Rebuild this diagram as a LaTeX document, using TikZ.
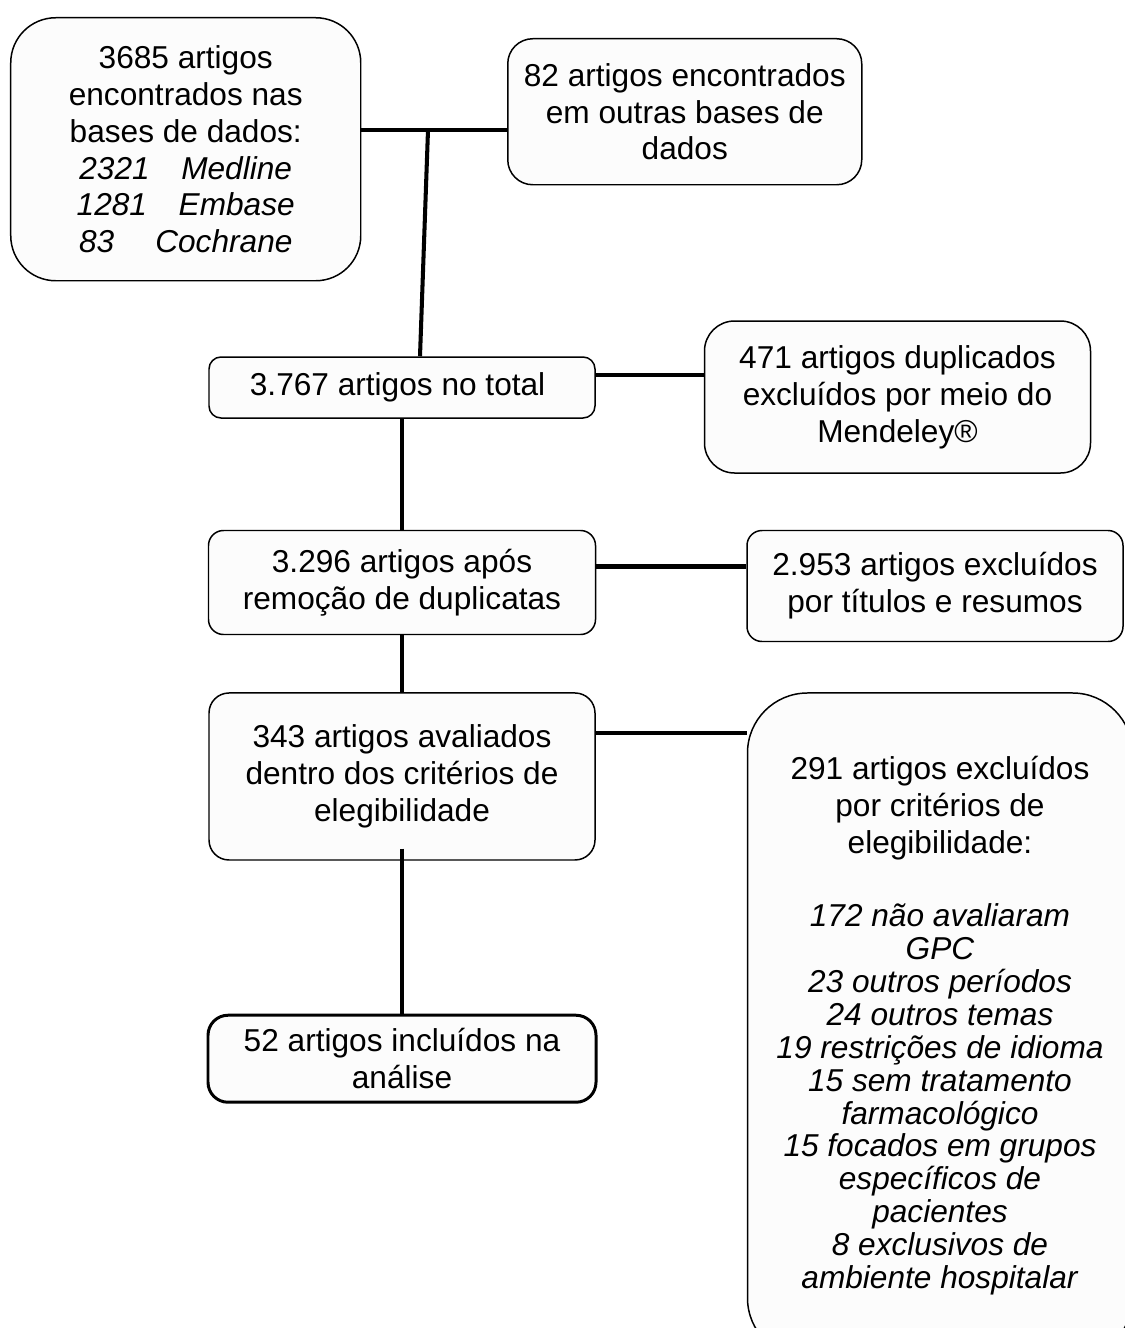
\documentclass[tikz,border=0pt]{standalone}
\usepackage{fontspec}
\setmainfont{Liberation Sans}
\usepackage{xcolor}
\usepackage{tikz}
\usetikzlibrary{positioning}
\tikzstyle{etapa}=[rectangle, draw=black, line width=0.85pt, fill=black!1,
        text centered, align=center, font=\fontsize{18}{21}\selectfont, inner sep=2pt]
\tikzstyle{ligacao}=[line width=2.3pt]

\begin{document}
\begin{tikzpicture}[node distance=1cm]
        \useasboundingbox (0,0) rectangle (22.5,-26.56);
        \clip (0,0) rectangle (22.5,-26.56);
        % busca inicial
        \node (bases) [etapa, anchor=north west, minimum width=7cm, minimum height=5.26cm, rounded corners=0.9cm] at (0.2,-0.34)
        {
          3685 artigos\\ encontrados nas\\ bases de dados:\\
          \textit{2321\hspace{1em}Medline}\\
          \textit{1281\hspace{1em}Embase}\\
          \textit{83\hspace{1.3em}Cochrane}
        };
        \node (outras) [etapa, anchor=north west, minimum width=7.08cm, minimum height=2.92cm, rounded corners=0.5cm] at (10.14,-0.76)
        {
          82 artigos encontrados\\ em outras bases de\\ dados
        };
        % coluna principal
        \node (total) [etapa, minimum width=7.72cm, minimum height=1.22cm, rounded corners=0.24cm] at (8.04,-7.75)
        {
          3.767 artigos no total
        };
        \node (semdup) [etapa, minimum width=7.74cm, minimum height=2.08cm, rounded corners=0.3cm, below=2.22cm of total]
        {
          3.296 artigos após\\ remoção de duplicatas
        };
        \node (elegiveis) [etapa, minimum width=7.72cm, minimum height=3.34cm, rounded corners=0.4cm, below=1.14cm of semdup]
        {
          343 artigos avaliados\\ dentro dos critérios de\\ elegibilidade
        };
        \node (incluidos) [etapa, line width=1.7pt, minimum width=7.76cm, minimum height=1.74cm, rounded corners=0.4cm, below=3.06cm of elegiveis]
        {
          52 artigos incluídos na\\ análise
        };
        % exclusoes
        \node (duplicados) [etapa, minimum width=7.72cm, minimum height=3.04cm, rounded corners=0.6cm, right=2.16cm of total, yshift=-0.19cm]
        {
          471 artigos duplicados\\ excluídos por meio do\\ Mendeley®
        };
        \node (titulos) [etapa, minimum width=7.52cm, minimum height=2.22cm, rounded corners=0.3cm, right=3cm of semdup, yshift=-0.07cm]
        {
          2.953 artigos excluídos\\ por títulos e resumos
        };
        \node (criterios) [etapa, minimum width=7.7cm, minimum height=13.3cm, rounded corners=1.2cm, right=3.02cm of elegiveis.north east, anchor=north west]
        {
          291 artigos excluídos\\ por critérios de\\ elegibilidade:\\[21pt]
          \textit{172 não avaliaram}\\[-2.3pt] \textit{GPC}\\[-2.3pt]
          \textit{23 outros períodos}\\[-2.3pt]
          \textit{24 outros temas}\\[-2.3pt]
          \textit{19 restrições de idioma}\\[-2.3pt]
          \textit{15 sem tratamento}\\[-2.3pt] \textit{farmacológico}\\[-2.3pt]
          \textit{15 focados em grupos}\\[-2.3pt] \textit{específicos de}\\[-2.3pt] \textit{pacientes}\\[-2.3pt]
          \textit{8 exclusivos de}\\[-2.3pt] \textit{ambiente hospitalar}
        };
        % ligacoes
        \coordinate (juncao) at (8.56,-2.6);
        \draw[ligacao] (bases.east |- juncao) -- (outras.west |- juncao);
        \draw[ligacao] (juncao) -- ([xshift=0.36cm]total.north);
        \draw[ligacao] ([yshift=0.25cm]total.east) -- ([yshift=0.25cm]total.east -| duplicados.west);
        \draw[ligacao] (total.south) -- (semdup.north);
        \draw[ligacao] ([yshift=0.32cm]semdup.east) -- ([yshift=0.32cm]semdup.east -| titulos.west);
        \draw[ligacao] (semdup.south) -- (elegiveis.north);
        \draw[ligacao] ([yshift=0.87cm]elegiveis.east) -- ([yshift=0.87cm]elegiveis.east -| criterios.west);
        \draw[ligacao] ([yshift=0.24cm]elegiveis.south) -- (incluidos.north);
      \end{tikzpicture}
\end{document}
